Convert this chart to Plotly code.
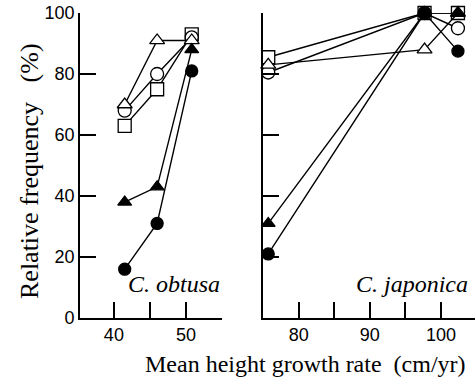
import plotly.graph_objects as go

# ---- data ----
obtusa_x = [41.5, 46.0, 50.8]
japonica_x = [75.7, 97.7, 102.4]

obtusa_open_tri = [70, 91, 91]
obtusa_open_circ = [68, 80, 92]
obtusa_open_sq = [63, 75, 93]
obtusa_fill_tri = [38, 43, 88]
obtusa_fill_circ = [16, 31, 81]

japonica_open_tri = [83, 88, 100]
japonica_open_circ = [80.5, 100, 95]
japonica_open_sq = [85.5, 100, 100]
japonica_fill_tri = [31, 100, 100]
japonica_fill_circ = [21, 100, 87.5]

left_ticks = [40, 45, 50, 55]
left_ticktext = ["40", "", "50", ""]
right_ticks = [80, 85, 90, 95, 100]
right_ticktext = ["80", "", "90", "", "100"]
y_ticks = [0, 20, 40, 60, 80, 100]

series = [
    ("open_sq", "square", "white", obtusa_open_sq, japonica_open_sq),
    ("open_circ", "circle", "white", obtusa_open_circ, japonica_open_circ),
    ("open_tri", "triangle-up", "white", obtusa_open_tri, japonica_open_tri),
    ("fill_tri", "triangle-up", "black", obtusa_fill_tri, japonica_fill_tri),
    ("fill_circ", "circle", "black", obtusa_fill_circ, japonica_fill_circ),
]

fig = go.Figure()
for name, sym, fill, yl, yr in series:
    size = 13 if fill == "white" else 12
    for xs, ys, xa, ya in [(obtusa_x, yl, "x", "y"), (japonica_x, yr, "x2", "y2")]:
        fig.add_trace(go.Scatter(
            x=xs, y=ys, xaxis=xa, yaxis=ya, mode="lines+markers",
            line=dict(color="black", width=1.4),
            marker=dict(symbol=sym, size=size, color=fill,
                        line=dict(color="black", width=1.3)),
            cliponaxis=False, showlegend=False, name=name))

tickfont = dict(family="Liberation Sans, Arial", size=18, color="black")
serif = "Liberation Serif, Times New Roman"
common_x = dict(showgrid=False, zeroline=False, showline=True, linecolor="black",
                linewidth=1.6, ticks="inside", ticklen=16, tickwidth=1.6,
                tickcolor="black", tickfont=tickfont, automargin=False)
common_y = dict(showgrid=False, zeroline=False, showline=True, linecolor="black",
                linewidth=1.6, ticks="inside", ticklen=16, tickwidth=1.6,
                tickcolor="black", tickfont=tickfont, range=[0, 100],
                tickvals=y_ticks, automargin=False)

L, T, B = 80, 13, 64
pw = 475 - L
ph = 382 - T - B
def px_x(px):
    return (px - L) / pw
def px_y(py):
    return (382 - B - py) / ph

fig.update_layout(
    width=475, height=382,
    margin=dict(l=L, r=0, t=T, b=B),
    paper_bgcolor="white", plot_bgcolor="white",
    xaxis=dict(domain=[0, 0.3595], range=[35.3, 55], tickvals=left_ticks,
               ticktext=left_ticktext, anchor="y", **common_x),
    xaxis2=dict(domain=[0.464, 1], range=[75, 104.8], tickvals=right_ticks,
                ticktext=right_ticktext, anchor="y2", **common_x),
    yaxis=dict(anchor="x", **common_y),
    yaxis2=dict(anchor="x2", showticklabels=False, **common_y),
    annotations=[
        dict(text="<i>C. obtusa</i>", x=px_x(174), y=px_y(284), xref="paper", yref="paper",
             xanchor="center", yanchor="middle",
             showarrow=False, font=dict(family=serif, size=24, color="black")),
        dict(text="<i>C. japonica</i>", x=px_x(412), y=px_y(284), xref="paper", yref="paper",
             xanchor="center", yanchor="middle",
             showarrow=False, font=dict(family=serif, size=24, color="black")),
        dict(text="Mean height growth rate\u00a0\u00a0(cm/yr)", x=px_x(305), y=px_y(364),
             xref="paper", yref="paper", xanchor="center", yanchor="middle", showarrow=False,
             font=dict(family=serif, size=24, color="black")),
        dict(text="Relative frequency\u00a0\u00a0\u00a0(%)", x=px_x(29), y=px_y(171),
             xref="paper", yref="paper", xanchor="center", yanchor="middle", showarrow=False,
             textangle=-90, font=dict(family=serif, size=26, color="black")),
    ],
)

fig.write_html("out.html")
